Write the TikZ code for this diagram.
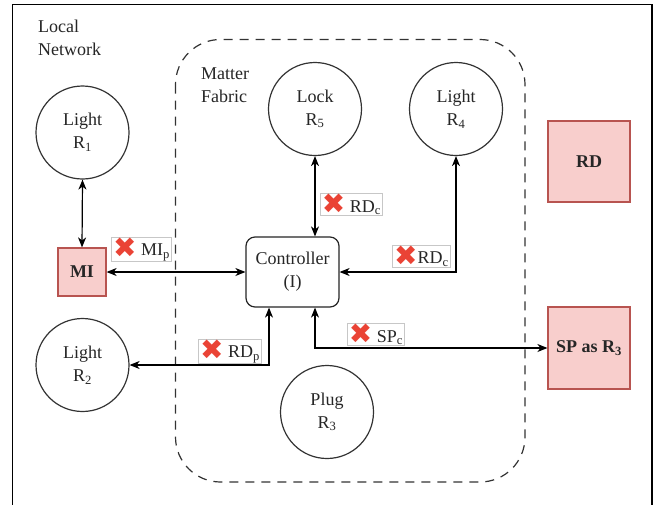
\documentclass[tikz,border=0pt]{standalone}
\usepackage{fontspec}
\setmainfont{Liberation Serif}
\newfontfamily\symfont{DejaVu Sans}
\usetikzlibrary{arrows.meta,calc}
\definecolor{xred}{RGB}{234,67,53}
\definecolor{pinkfill}{RGB}{248,206,204}
\definecolor{pinkline}{RGB}{184,84,80}
\newcommand\fsz{\fontsize{18}{23}\selectfont}
\newcommand\xmk{{\symfont\fontsize{28}{28}\selectfont\color{xred}\raisebox{-1.5pt}{✖}}}
\tikzset{
  txt/.style={font=\fsz, text=black!85},
  circ/.style={txt, circle, draw=black!80, line width=1.2pt, minimum size=93pt, inner sep=0pt, align=center},
  pinkbox/.style={txt, draw=pinkline, fill=pinkfill, line width=1.2pt, inner sep=0pt, align=center, font=\fsz\bfseries},
  ctrlbox/.style={txt, draw=black!85, line width=1.2pt, rounded corners=9pt, minimum width=93pt, minimum height=70pt, inner sep=0pt, align=center},
  lbl/.style={txt, draw=black!22, fill=white, line width=0.6pt, inner xsep=1.5pt, inner ysep=0.5pt},
  conn/.style={<->, line width=1.2pt, >={Stealth[length=10pt,width=8pt,inset=3pt]}}
}
\begin{document}
\begin{tikzpicture}[x=1pt,y=-1pt]
\useasboundingbox (0,0) rectangle (655,504);
\clip (0,0) rectangle (655,504);
\fill[white] (0,0) rectangle (655,504);
% outer frame
\draw[line width=1.3pt] (12.5,4.5) rectangle (652,540);
% matter fabric region
\draw[line width=1.2pt, draw=black!80, dash pattern=on 9pt off 7pt, rounded corners=45pt] (175.5,39.5) rectangle (525,482);
\node[txt, align=left, anchor=north west, inner sep=0pt] (ln) at (38,19.5) {Local\\Network};
\node[txt, align=left, anchor=north west, inner sep=0pt] (mf) at (201,67.5) {Matter\\Fabric};
% nodes
\node[circ] (r1) at (82.5,132.5) {Light\\R\textsubscript{1}};
\node[circ] (r2) at (82.5,365) {Light\\R\textsubscript{2}};
\node[circ] (r5) at (315,109) {Lock\\R\textsubscript{5}};
\node[circ] (r4) at (456,109) {Light\\R\textsubscript{4}};
\node[circ] (r3) at (327,412) {Plug\\R\textsubscript{3}};
\node[pinkbox, minimum width=48pt, minimum height=48pt] (mi) at (82,272) {MI};
\node[pinkbox, minimum width=82pt, minimum height=81pt] (rd) at (589,161.5) {RD};
\node[pinkbox, minimum width=82pt, minimum height=82pt] (sp) at (589,348) {SP as R\textsubscript{3}};
\node[ctrlbox] (ctrl) at (292.5,272) {Controller\\(I)};
% connectors
\draw[conn] (r1.south) -- (mi.north);
\draw[conn] (mi.east) -- (ctrl.west);
\draw[conn] (r5.south) -- (r5.south |- ctrl.north);
\draw[conn] (ctrl.east) -| (r4.south);
\draw[conn] (r2.east) -| ([xshift=-23.5pt]ctrl.south);
\draw[conn] (sp.west) -| ([xshift=22.5pt]ctrl.south);
% labels
\node[lbl] (lmi) at (141.5,249.5) {\xmk\ MI\textsubscript{p}};
\node[lbl] (lrd5) at (351.5,204.5) {\xmk\ RD\textsubscript{c}};
\node[lbl] (lrd4) at (421.5,256) {\xmk RD\textsubscript{c}};
\node[lbl] (lsp) at (376,334.5) {\xmk\ SP\textsubscript{c}};
\node[lbl] (lrdp) at (230,351.5) {\xmk\ RD\textsubscript{p}};
\end{tikzpicture}
\end{document}
